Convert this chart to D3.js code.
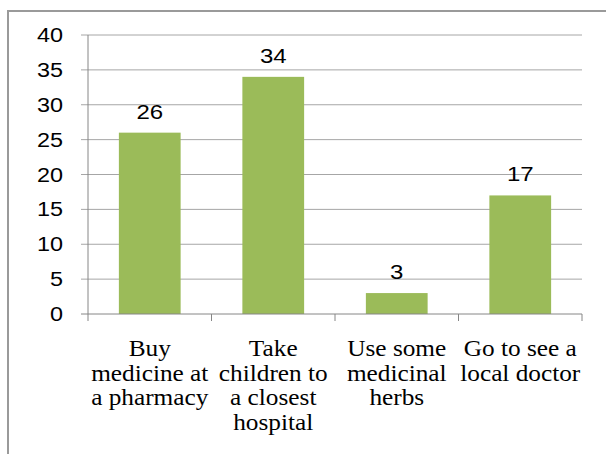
<!DOCTYPE html>
<html>
<head>
<meta charset="utf-8">
<script src="https://cdn.jsdelivr.net/npm/d3@7"></script>
<style>
  body { margin: 0; background: #fff; }
  .cat { font-family: "Liberation Serif", "Times New Roman", Times, "DejaVu Serif", "Noto Serif", "Nimbus Roman", Tinos, FreeSerif, serif; }
  .num { font-family: "Liberation Sans", Arial, sans-serif; }
</style>
</head>
<body>
<div class="chart"></div>
<script>
const categories = [
  ['Buy', 'medicine at', 'a pharmacy'],
  ['Take', 'children to', 'a closest', 'hospital'],
  ['Use some', 'medicinal', 'herbs'],
  ['Go to see a', 'local doctor']
];
const values = [26, 34, 3, 17];
const yTicks = [0, 5, 10, 15, 20, 25, 30, 35, 40];

const width = 606, height = 454;
const svg = d3.select('.chart').append('svg')
    .attr('width', width).attr('height', height);

// outer frame
svg.append('rect')
    .attr('x', 8).attr('y', 11)
    .attr('width', width).attr('height', height)
    .attr('fill', 'none')
    .attr('stroke', '#9a9a9a')
    .attr('stroke-width', 2);

const plotLeft = 88, plotRight = 582, plotTop = 35, plotBottom = 314;
const x = d3.scaleBand().domain(d3.range(values.length)).range([plotLeft, plotRight])
    .paddingInner(0.5).paddingOuter(0.25);
const xOuter = d3.scaleBand().domain(d3.range(values.length)).range([plotLeft, plotRight]);
const y = d3.scaleLinear().domain([0, 40]).range([plotBottom, plotTop]);

// gridlines
svg.append('g').selectAll('line')
    .data(yTicks.filter(d => d > 0))
    .enter().append('line')
    .attr('x1', plotLeft - 7).attr('x2', plotRight)
    .attr('y1', d => y(d)).attr('y2', d => y(d))
    .attr('stroke', '#a6a6a6').attr('stroke-width', 1);

// bars
svg.append('g').selectAll('rect')
    .data(values)
    .enter().append('rect')
    .attr('x', (d, i) => x(i))
    .attr('width', x.bandwidth())
    .attr('y', d => y(d))
    .attr('height', d => plotBottom - y(d))
    .attr('fill', '#9bbb59');

// axes
svg.append('line')
    .attr('x1', plotLeft).attr('x2', plotLeft)
    .attr('y1', plotTop).attr('y2', plotBottom)
    .attr('stroke', '#868686');
svg.append('line')
    .attr('x1', plotLeft - 7).attr('x2', plotRight)
    .attr('y1', plotBottom).attr('y2', plotBottom)
    .attr('stroke', '#868686');

svg.append('g').selectAll('line')
    .data(d3.range(values.length + 1))
    .enter().append('line')
    .attr('x1', i => i < values.length ? xOuter(i) : plotRight)
    .attr('x2', i => i < values.length ? xOuter(i) : plotRight)
    .attr('y1', plotBottom).attr('y2', plotBottom + 7)
    .attr('stroke', '#868686');

// y tick labels
svg.append('g').selectAll('text')
    .data(yTicks)
    .enter().append('text')
    .attr('class', 'num')
    .attr('transform', d => 'translate(63,' + (y(d) + 7) + ') scale(1.2,1)')
    .attr('text-anchor', 'end')
    .attr('font-size', 19.5)
    .attr('fill', '#000')
    .text(d => d);

// value labels
svg.append('g').selectAll('text')
    .data(values)
    .enter().append('text')
    .attr('class', 'num')
    .attr('transform', (d, i) => 'translate(' + (x(i) + x.bandwidth() / 2) + ',' + (y(d) - 14) + ') scale(1.2,1)')
    .attr('text-anchor', 'middle')
    .attr('font-size', 20)
    .attr('fill', '#000')
    .text(d => d);

// category labels
const cat = svg.append('g').selectAll('g')
    .data(categories)
    .enter().append('g')
    .attr('transform', (d, i) => 'translate(' + (x(i) + x.bandwidth() / 2) + ',0)');
cat.selectAll('text')
    .data(d => d)
    .enter().append('text')
    .attr('class', 'cat')
    .attr('transform', (d, j) => 'translate(0,' + (356 + j * 24.7) + ') scale(1.1,1)')
    .attr('text-anchor', 'middle')
    .attr('font-size', 23)
    .attr('fill', '#000')
    .text(d => d);
</script>
</body>
</html>
